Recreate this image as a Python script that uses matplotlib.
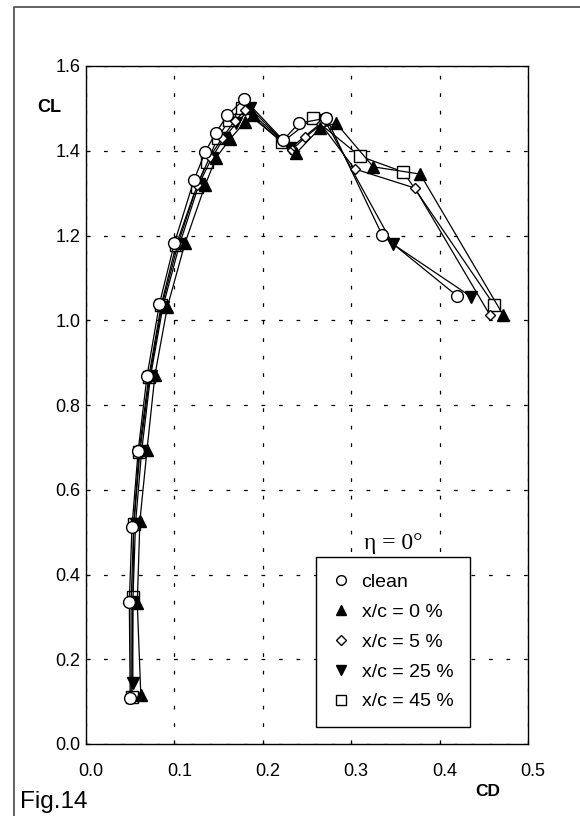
import matplotlib.pyplot as plt
import matplotlib.transforms as mtransforms
from matplotlib.lines import Line2D

plt.rcParams['font.family'] = ['Liberation Sans', 'DejaVu Sans']

# drag / lift polars for each trip position
clean_cd = [0.050, 0.049, 0.052, 0.059, 0.069, 0.083, 0.100, 0.122, 0.135, 0.147, 0.160, 0.179, 0.223, 0.241, 0.272, 0.335, 0.420]
clean_cl = [0.109, 0.335, 0.512, 0.692, 0.868, 1.038, 1.182, 1.330, 1.398, 1.443, 1.484, 1.522, 1.425, 1.465, 1.477, 1.201, 1.057]

xc0_cd = [0.062, 0.058, 0.061, 0.069, 0.078, 0.092, 0.112, 0.135, 0.147, 0.163, 0.180, 0.189, 0.238, 0.265, 0.283, 0.325, 0.378, 0.472]
xc0_cl = [0.116, 0.333, 0.527, 0.694, 0.871, 1.031, 1.182, 1.320, 1.383, 1.428, 1.468, 1.485, 1.395, 1.454, 1.465, 1.362, 1.345, 1.012]

xc5_cd = [0.051, 0.051, 0.054, 0.061, 0.072, 0.086, 0.104, 0.126, 0.140, 0.154, 0.168, 0.180, 0.233, 0.248, 0.266, 0.304, 0.372, 0.457]
xc5_cl = [0.108, 0.335, 0.515, 0.690, 0.866, 1.035, 1.180, 1.320, 1.385, 1.430, 1.470, 1.495, 1.402, 1.432, 1.462, 1.357, 1.312, 1.012]

xc25_cd = [0.053, 0.053, 0.056, 0.063, 0.073, 0.087, 0.106, 0.128, 0.142, 0.156, 0.170, 0.186, 0.231, 0.270, 0.347, 0.436]
xc25_cl = [0.144, 0.335, 0.520, 0.692, 0.868, 1.032, 1.180, 1.322, 1.382, 1.430, 1.465, 1.500, 1.406, 1.472, 1.180, 1.055]

xc45_cd = [0.052, 0.053, 0.054, 0.060, 0.071, 0.085, 0.102, 0.125, 0.137, 0.149, 0.162, 0.176, 0.222, 0.257, 0.310, 0.359, 0.462]
xc45_cl = [0.110, 0.347, 0.519, 0.690, 0.866, 1.035, 1.178, 1.315, 1.373, 1.430, 1.473, 1.500, 1.420, 1.477, 1.387, 1.350, 1.035]

labels = ['clean', 'x/c = 0 %', 'x/c = 5 %', 'x/c = 25 %', 'x/c = 45 %']
xticks = [0.0, 0.1, 0.2, 0.3, 0.4, 0.5]
yticks = [0.0, 0.2, 0.4, 0.6, 0.8, 1.0, 1.2, 1.4, 1.6]

W, H = 580, 816
fig = plt.figure(figsize=(W / 100, H / 100), dpi=100)
ax = fig.add_axes([86 / W, 1 - 744 / H, 442 / W, 678 / H])

# series: (cd, cl, marker, face, size)
series = [
    (xc45_cd, xc45_cl, 's', 'white', 8),
    (xc25_cd, xc25_cl, 'v', 'black', 8.5),
    (xc5_cd, xc5_cl, 'D', 'white', 5.5),
    (xc0_cd, xc0_cl, '^', 'black', 8.5),
    (clean_cd, clean_cl, 'o', 'white', 8.5),
]
for i, (cd, cl, m, fc, ms) in enumerate(series):
    ax.plot(cd, cl, color='black', lw=0.9, marker=m, mfc=fc, mec='black',
            mew=1.0, ms=ms, zorder=3 + i)

ax.set_xlim(0, 0.5)
ax.set_ylim(0, 1.6)
ax.set_xticks(xticks)
ax.set_yticks(yticks)
ax.set_xticklabels(['%.1f' % v for v in xticks])
ax.set_yticklabels(['%.1f' % v for v in yticks])
ax.tick_params(axis='x', direction='in', length=3, pad=14, labelsize=13)
ax.tick_params(axis='y', direction='in', length=3, pad=4, labelsize=13)
offset = mtransforms.ScaledTranslation(5 / 100, 0, fig.dpi_scale_trans)
for lbl in ax.get_xticklabels():
    lbl.set_transform(lbl.get_transform() + offset)

ax.grid(True, color='black', linestyle=(0, (3, 11)), lw=0.9)
for s in ax.spines.values():
    s.set_linewidth(1.0)

# legend with markers only
handles = []
legend_style = [('o', 'white', 7), ('^', 'black', 7), ('D', 'white', 5), ('v', 'black', 7), ('s', 'white', 7)]
for (m, fc, ms), lab in zip(legend_style, labels):
    handles.append(Line2D([], [], ls='none', marker=m, mfc=fc, mec='black', mew=1.0, ms=ms, label=lab))
leg = ax.legend(handles=handles, loc='upper left', bbox_to_anchor=(0.52, 0.276),
                frameon=True, fancybox=False, shadow=False, fontsize=14,
                handlelength=0.9, handletextpad=0.6, labelspacing=0.63,
                borderpad=0.85, borderaxespad=0, framealpha=1)
leg.get_frame().set_edgecolor('black')
leg.get_frame().set_linewidth(1.0)
leg.set_zorder(10)

fig.text(393 / W, 1 - 544 / H, 'η = 0°', family=['Liberation Serif', 'DejaVu Serif'],
         fontsize=17, ha='center', va='center')
fig.text(49 / W, 1 - 108 / H, 'CL', fontsize=13, fontweight='bold', ha='center', va='center')
fig.text(488 / W, 1 - 791 / H, 'CD', fontsize=12.5, fontweight='bold', ha='center', va='center')
fig.text(20 / W, 1 - 802 / H, 'Fig.14', fontsize=17.5, ha='left', va='center')

# page frame
fig.add_artist(Line2D([14 / W, 14 / W, 1.0], [0.0, 1 - 6.5 / H, 1 - 6.5 / H],
                      transform=fig.transFigure, color='#555555', lw=1.3))

fig.savefig('out.png', dpi=100)
